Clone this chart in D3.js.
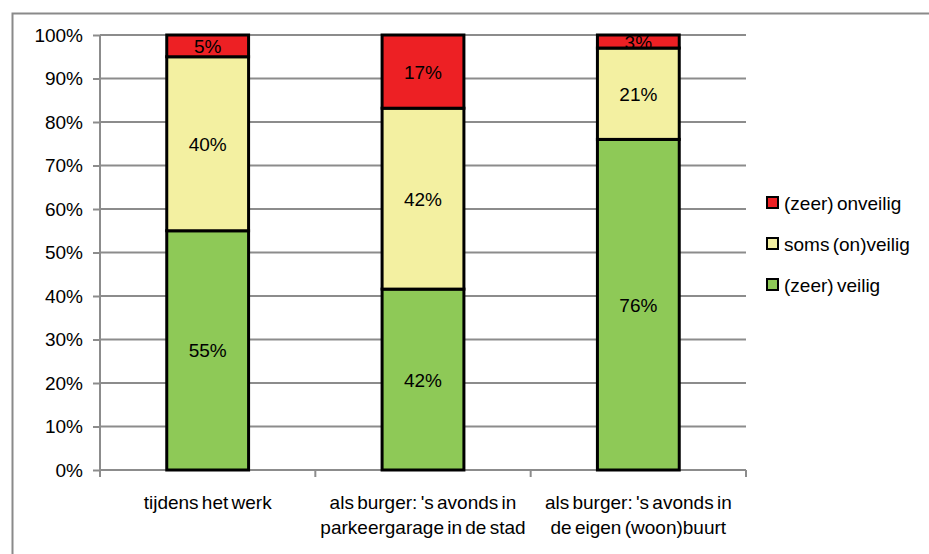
<!DOCTYPE html>
<html>
<head>
<meta charset="utf-8">
<script src="https://cdn.jsdelivr.net/npm/d3@7"></script>
<style>
  html, body { margin: 0; padding: 0; background: #fff; }
  svg { display: block; font-family: "Liberation Sans", Arial, sans-serif; }
</style>
</head>
<body>
<svg id="chart" width="929" height="554"></svg>
<script>
// Categories (two-line labels)
const categories = [
  ["tijdens het werk"],
  ["als burger: 's avonds in", "parkeergarage in de stad"],
  ["als burger: 's avonds in", "de eigen (woon)buurt"]
];
const categoryKeys = ["werk", "parkeergarage", "buurt"];

// Series, bottom to top
const seriesNames = ["(zeer) veilig", "soms (on)veilig", "(zeer) onveilig"];
const veilig   = [55, 42, 76];
const somsOn   = [40, 42, 21];
const onveilig = [5, 17, 3];

const yTicks = [0, 10, 20, 30, 40, 50, 60, 70, 80, 90, 100];
const colors = ["#8ec957", "#f3f0a1", "#ed2024"];

const rows = categoryKeys.map((k, i) => ({
  key: k,
  [seriesNames[0]]: veilig[i],
  [seriesNames[1]]: somsOn[i],
  [seriesNames[2]]: onveilig[i]
}));

const svg = d3.select("#chart");
const margin = { left: 100, right: 183, top: 35, bottom: 84 };
const W = 929, H = 554;
const x0 = margin.left, x1 = W - margin.right;
const y0 = H - margin.bottom, y1 = margin.top;
const FS = 19;

// Outer frame (top and left edges visible)
svg.append("path")
  .attr("d", `M12.5,554 V13.5 H929`)
  .attr("fill", "none").attr("stroke", "#8a8a8a").attr("stroke-width", 2);

const x = d3.scaleBand().domain(categoryKeys).range([x0, x1]).paddingInner(0.62).paddingOuter(0.31);
const y = d3.scaleLinear().domain([0, 1]).range([y0, y1]);

const stack = d3.stack().keys(seriesNames).offset(d3.stackOffsetExpand);
const layers = stack(rows);

// Gridlines
svg.append("g").selectAll("line").data(yTicks.slice(1)).join("line")
  .attr("x1", x0).attr("x2", x1)
  .attr("y1", d => y(d / 100)).attr("y2", d => y(d / 100))
  .attr("stroke", "#8c8c8c").attr("stroke-width", 2);

// Y axis
const yAxis = d3.axisLeft(y).tickValues(yTicks.map(d => d / 100))
  .tickFormat(d => Math.round(d * 100) + "%").tickSize(7).tickPadding(10);
const gy = svg.append("g").attr("transform", `translate(${x0},0)`).call(yAxis);
gy.select(".domain").attr("stroke", "#8c8c8c").attr("stroke-width", 2).attr("d", `M0,${y0}V${y1}`);
gy.selectAll(".tick line").attr("stroke", "#8c8c8c").attr("stroke-width", 2);
gy.selectAll(".tick text").attr("font-size", FS).attr("fill", "#000")
  .attr("font-family", '"Liberation Sans", Arial, sans-serif');

// X axis (ticks at band boundaries)
const step = x.step();
const bounds = d3.range(categoryKeys.length + 1).map(i => x0 + i * step);
svg.append("line").attr("x1", x0).attr("x2", x1).attr("y1", y0).attr("y2", y0)
  .attr("stroke", "#8c8c8c").attr("stroke-width", 2);
svg.append("g").selectAll("line").data(bounds).join("line")
  .attr("x1", d => d).attr("x2", d => d).attr("y1", y0).attr("y2", y0 + 7)
  .attr("stroke", "#8c8c8c").attr("stroke-width", 2);

// Category labels
const lab = svg.append("g").selectAll("text").data(categories).join("text")
  .attr("x", (d, i) => x(categoryKeys[i]) + x.bandwidth() / 2)
  .attr("y", 509)
  .attr("text-anchor", "middle").attr("font-size", FS).attr("fill", "#000")
  .attr("word-spacing", -2);
lab.selectAll("tspan").data(d => d).join("tspan")
  .attr("x", function () { return d3.select(this.parentNode).attr("x"); })
  .attr("dy", (d, i) => i === 0 ? 0 : 25)
  .text(d => d);

// Bars
const gBars = svg.append("g");
layers.forEach((layer, li) => {
  gBars.append("g").selectAll("rect").data(layer).join("rect")
    .attr("x", d => x(d.data.key))
    .attr("width", x.bandwidth())
    .attr("y", d => y(d[1]))
    .attr("height", d => y(d[0]) - y(d[1]))
    .attr("fill", colors[li])
    .attr("stroke", "#000").attr("stroke-width", 3);
});

// Value labels
layers.forEach((layer, li) => {
  gBars.append("g").selectAll("text").data(layer).join("text")
    .attr("x", d => x(d.data.key) + x.bandwidth() / 2)
    .attr("y", d => (y(d[0]) + y(d[1])) / 2 + 7)
    .attr("text-anchor", "middle").attr("font-size", FS).attr("fill", "#000")
    .text(d => d.data[layer.key] + "%");
});

// Legend (top series first)
const legendOrder = [2, 1, 0];
const lg = svg.append("g").selectAll("g").data(legendOrder).join("g")
  .attr("transform", (d, i) => `translate(767,${197 + i * 41})`);
lg.append("rect").attr("width", 11).attr("height", 11)
  .attr("fill", d => colors[d]).attr("stroke", "#000").attr("stroke-width", 2);
lg.append("text").attr("x", 17).attr("y", 13).attr("font-size", FS).attr("fill", "#000")
  .attr("word-spacing", -2)
  .text(d => seriesNames[d]);
</script>
</body>
</html>
